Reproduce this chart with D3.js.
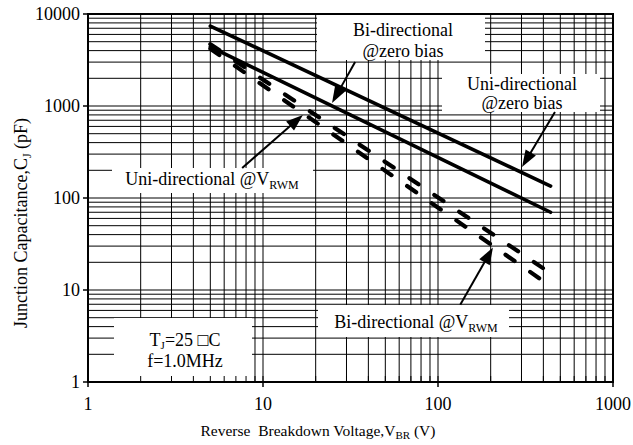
<!DOCTYPE html>
<html>
<head>
<meta charset="utf-8">
<script src="https://cdn.jsdelivr.net/npm/d3@7"></script>
<style>
  html, body { margin: 0; padding: 0; background: #fff; }
  svg { display: block; }
  text { font-family: "Liberation Serif", "Times New Roman", serif; fill: #000; }
</style>
</head>
<body>
<svg id="chart" width="633" height="445"></svg>
<script>
// ---------- data ----------
const xDomain = [1, 1000];
const yDomain = [1, 10000];
const xTickLabels = [1, 10, 100, 1000];
const yTickLabels = [1, 10, 100, 1000, 10000];

// Reverse breakdown voltage (V) at the ends of each curve
const voltage = [5, 440];
// Junction capacitance (pF)
const uniZeroBias = [7400, 135];
const biZeroBias  = [4400, 70];
const uniVrwm     = [4700, 15.2];
const biVrwm      = [4200, 11];

// annotation arrows: [tailV, tailC, tipV, tipC]
const arrowBiZero  = [33.6, 3000, 24.8, 1080];
const arrowUniZero = [466, 860, 302, 217];
const arrowUniVrwm = [7.6, 212, 16.9, 800];
const arrowBiVrwm  = [134, 6.9, 206, 29];

// ---------- drawing ----------
const svg = d3.select("#chart");
const L = 88, R = 613, T = 14, B = 382;
const x = d3.scaleLog().domain(xDomain).range([L, R]);
const y = d3.scaleLog().domain(yDomain).range([B, T]);

// grid values: 1..9 x each decade
function gridVals(d) {
  const v = [];
  for (let e = Math.log10(d[0]); e < Math.log10(d[1]); e++) {
    for (let m = 1; m <= 9; m++) v.push(m * Math.pow(10, e));
  }
  return v.filter(t => t > d[0] && t < d[1]);
}
const grid = svg.append("g").attr("stroke", "#000").attr("stroke-width", 1);
grid.selectAll("line.v").data(gridVals(xDomain)).join("line")
  .attr("x1", d => x(d)).attr("x2", d => x(d)).attr("y1", T).attr("y2", B);
grid.selectAll("line.h").data(gridVals(yDomain)).join("line")
  .attr("y1", d => y(d)).attr("y2", d => y(d)).attr("x1", L).attr("x2", R);

// white label boxes covering the grid
const boxes = [
  {x: 317, y: T,   w: 168, h: 46},   // Bi-directional @zero bias
  {x: 442, y: 74,  w: 158, h: 38},   // Uni-directional @zero bias
  {x: 112, y: 168, w: 201, h: 25},   // Uni-directional @VRWM
  {x: 318, y: 305, w: 191, h: 32},   // Bi-directional @VRWM
  {x: 114, y: 318, w: 138, h: B - 318} // TJ box
];
svg.append("g").selectAll("rect").data(boxes).join("rect")
  .attr("x", d => d.x).attr("y", d => d.y).attr("width", d => d.w).attr("height", d => d.h)
  .attr("fill", "#fff");

// inner minor ticks along bottom
svg.append("g").attr("stroke", "#000").attr("stroke-width", 1)
  .selectAll("line").data(gridVals(xDomain)).join("line")
  .attr("x1", d => x(d)).attr("x2", d => x(d)).attr("y1", B).attr("y2", B - 6);

// frame
svg.append("rect").attr("x", L).attr("y", T).attr("width", R - L).attr("height", B - T)
  .attr("fill", "none").attr("stroke", "#000").attr("stroke-width", 2);

// outer ticks
svg.append("g").attr("stroke", "#000").attr("stroke-width", 1.5)
  .selectAll("line").data(xTickLabels).join("line")
  .attr("x1", d => x(d)).attr("x2", d => x(d)).attr("y1", B).attr("y2", B + 5);
svg.append("g").attr("stroke", "#000").attr("stroke-width", 1.5)
  .selectAll("line").data(yTickLabels).join("line")
  .attr("y1", d => y(d)).attr("y2", d => y(d)).attr("x1", L - 5).attr("x2", L);

// tick labels
svg.append("g").selectAll("text").data(xTickLabels).join("text")
  .attr("x", d => x(d)).attr("y", 410).attr("text-anchor", "middle")
  .attr("font-size", 18).text(d => d);
svg.append("g").selectAll("text").data(yTickLabels).join("text")
  .attr("x", 80).attr("y", d => y(d) + 6).attr("text-anchor", "end")
  .attr("font-size", 18).text(d => d);

// axis titles
const xt = svg.append("text").attr("x", 318).attr("y", 436).attr("text-anchor", "middle")
  .attr("font-size", 15.5);
xt.append("tspan").text("Reverse\u00A0 Breakdown Voltage,V");
xt.append("tspan").attr("font-size", 11).attr("dy", 3).text("BR");
xt.append("tspan").attr("dy", -3).text(" (V)");

const yt = svg.append("text").attr("transform", "translate(27,223) rotate(-90)")
  .attr("text-anchor", "middle").attr("font-size", 18);
yt.append("tspan").text("Junction Capacitance,C");
yt.append("tspan").attr("font-size", 12).attr("dy", 4).text("J");
yt.append("tspan").attr("dy", -4).text(" (pF)");

// curves
const line = d3.line().x(d => x(d[0])).y(d => y(d[1]));
const zip = (a, b) => a.map((v, i) => [v, b[i]]);
const plot = svg.append("g").attr("fill", "none").attr("stroke", "#000").attr("stroke-linecap", "round");
plot.append("path").attr("d", line(zip(voltage, uniZeroBias))).attr("stroke-width", 3.6);
plot.append("path").attr("d", line(zip(voltage, biZeroBias))).attr("stroke-width", 3.6);
plot.append("path").attr("d", line(zip(voltage, uniVrwm))).attr("stroke-width", 4.2)
  .attr("stroke-dasharray", "11 19");
plot.append("path").attr("d", line(zip(voltage, biVrwm))).attr("stroke-width", 4.2)
  .attr("stroke-dasharray", "11 19");

// arrows
function arrow(a) {
  const x0 = x(a[0]), y0 = y(a[1]), x1 = x(a[2]), y1 = y(a[3]);
  const dx = x1 - x0, dy = y1 - y0, len = Math.hypot(dx, dy);
  const ux = dx / len, uy = dy / len;
  const hl = 17, hw = 6;
  const bx = x1 - ux * hl, by = y1 - uy * hl;
  svg.append("line").attr("x1", x0).attr("y1", y0).attr("x2", bx + ux * 2).attr("y2", by + uy * 2)
    .attr("stroke", "#000").attr("stroke-width", 2);
  svg.append("path").attr("fill", "#000")
    .attr("d", `M${x1},${y1}L${bx - uy * hw},${by + ux * hw}L${bx + uy * hw},${by - ux * hw}Z`);
}
[arrowBiZero, arrowUniZero, arrowUniVrwm, arrowBiVrwm].forEach(arrow);

// annotation texts
function label(cx, by, parts, size) {
  const t = svg.append("text").attr("x", cx).attr("y", by).attr("text-anchor", "middle").attr("font-size", size || 18);
  parts.forEach(p => {
    const s = t.append("tspan").text(p.t);
    if (p.sub) s.attr("font-size", p.small || 12).attr("dy", p.dy || 4);
    if (p.up) s.attr("dy", -(p.up));
  });
}
label(403, 36, [{t: "Bi-directional"}]);
label(403, 57, [{t: "@zero bias"}]);
label(522, 90, [{t: "Uni-directional"}]);
label(522, 109, [{t: "@zero bias"}]);
label(212, 185, [{t: "Uni-directional @V"}, {t: "RWM", sub: true}]);
label(416, 328, [{t: "Bi-directional @V"}, {t: "RWM", sub: true}]);
label(185, 346, [{t: "T"}, {t: "J", sub: true, small: 11, dy: 3}, {t: "=25 \u25A1C", up: 3}]);
label(185, 367, [{t: "f=1.0MHz"}]);
</script>
</body>
</html>
